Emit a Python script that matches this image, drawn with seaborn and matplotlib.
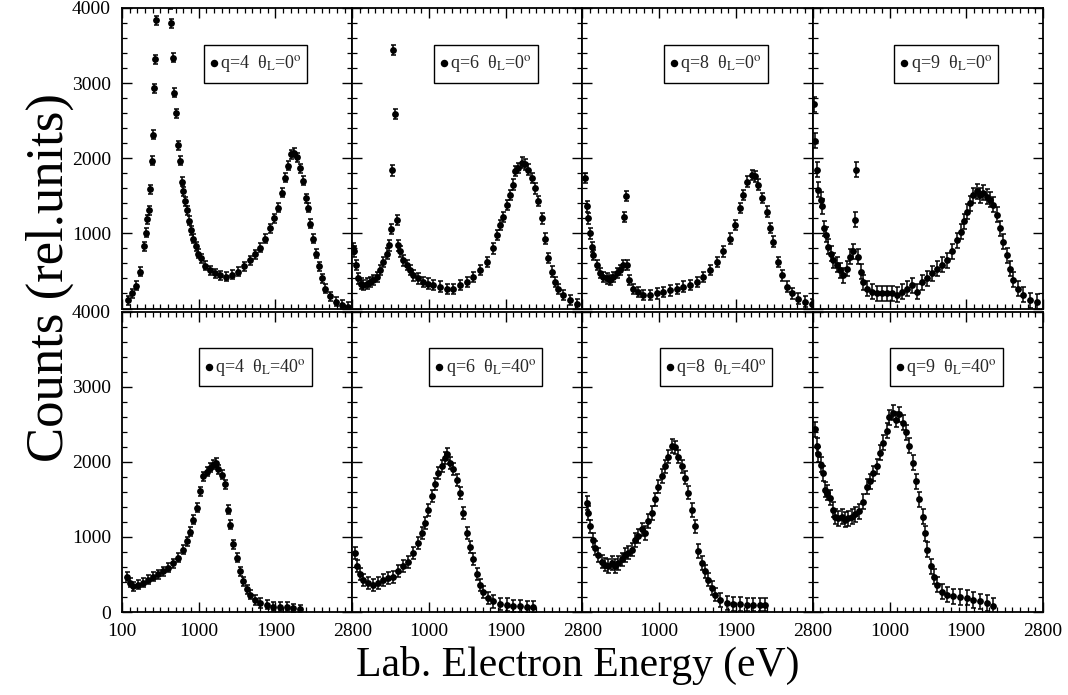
import matplotlib
matplotlib.use('Agg')
import numpy as np
import matplotlib.pyplot as plt
import seaborn as sns
from matplotlib.path import Path
from matplotlib.ticker import FixedLocator, MultipleLocator

# ---------------- data ----------------
x_ticks = [100, 1000, 1900, 2800]
y_ticks = [0, 1000, 2000, 3000, 4000]

labels = ['q=4  θ$_{\\rm L}$=0$^{\\rm o}$', 'q=6  θ$_{\\rm L}$=0$^{\\rm o}$',
          'q=8  θ$_{\\rm L}$=0$^{\\rm o}$', 'q=9  θ$_{\\rm L}$=0$^{\\rm o}$',
          'q=4  θ$_{\\rm L}$=40$^{\\rm o}$', 'q=6  θ$_{\\rm L}$=40$^{\\rm o}$',
          'q=8  θ$_{\\rm L}$=40$^{\\rm o}$', 'q=9  θ$_{\\rm L}$=40$^{\\rm o}$']

E_q4_0 = [167, 214, 264, 311, 362, 378, 397, 413, 425, 448, 460, 472, 483, 495, 663, 678, 695, 710, 733, 760,
          784, 800, 815, 839, 862, 886, 909, 933, 968, 991, 1026, 1073, 1132, 1191, 1249, 1320, 1390, 1460, 1531,
          1601, 1660, 1718, 1777, 1836, 1883, 1929, 1976, 2011, 2047, 2082, 2117, 2152, 2187, 2223, 2258, 2281,
          2305, 2340, 2375, 2410, 2445, 2481, 2539, 2610, 2680, 2750]
C_q4_0 = [110, 200, 300, 490, 830, 1010, 1190, 1310, 1590, 1970, 2310, 2930, 3320, 3840, 4050, 3800, 3340, 2870,
          2600, 2170, 1970, 1690, 1560, 1430, 1310, 1170, 1040, 930, 830, 730, 670, 570, 510, 470, 440, 420, 450,
          490, 560, 640, 720, 810, 930, 1070, 1200, 1340, 1540, 1740, 1900, 2050, 2070, 2010, 1870, 1700, 1470,
          1340, 1130, 930, 730, 560, 400, 260, 160, 90, 50, 20]

E_q6_0 = [113, 120, 144, 171, 199, 230, 269, 308, 347, 386, 425, 464, 504, 535, 558, 570, 582, 605, 629, 640,
          660, 699, 738, 777, 816, 875, 934, 992, 1051, 1129, 1207, 1285, 1364, 1442, 1520, 1598, 1676, 1754,
          1794, 1833, 1872, 1911, 1950, 1989, 2009, 2048, 2087, 2126, 2165, 2204, 2243, 2282, 2321, 2360, 2399,
          2438, 2478, 2517, 2575, 2653, 2732]
C_q6_0 = [800, 760, 580, 400, 330, 310, 330, 350, 380, 420, 510, 620, 730, 840, 1060, 1840, 3440, 2590, 1180,
          840, 760, 640, 580, 510, 440, 400, 350, 330, 310, 290, 260, 260, 310, 350, 420, 510, 620, 800, 980,
          1110, 1220, 1380, 1510, 1650, 1830, 1870, 1940, 1920, 1850, 1740, 1600, 1430, 1200, 930, 670, 490,
          350, 260, 180, 110, 60]

E_q8_0 = [129, 149, 168, 188, 207, 227, 266, 305, 344, 383, 422, 461, 501, 540, 571, 590, 606, 626, 649, 696,
          755, 813, 892, 970, 1048, 1126, 1204, 1282, 1361, 1439, 1517, 1595, 1673, 1752, 1830, 1888, 1947, 1986,
          2033, 2084, 2123, 2162, 2201, 2260, 2299, 2338, 2397, 2436, 2494, 2553, 2631, 2709, 2787]
C_q8_0 = [1740, 1360, 1200, 1000, 820, 710, 580, 470, 420, 400, 380, 420, 470, 510, 580, 1220, 1500, 580, 380,
          260, 220, 180, 180, 200, 220, 240, 260, 290, 310, 350, 420, 510, 620, 760, 930, 1110, 1340, 1510, 1690,
          1780, 1760, 1650, 1470, 1290, 1070, 890, 620, 440, 290, 200, 130, 90, 60]

E_q9_0 = [115, 126, 146, 165, 193, 208, 232, 255, 283, 310, 341, 381, 420, 459, 498, 537, 568, 599, 607, 635,
          662, 693, 732, 791, 850, 908, 967, 1025, 1084, 1143, 1201, 1260, 1319, 1377, 1436, 1495, 1553, 1612,
          1670, 1729, 1788, 1835, 1874, 1905, 1944, 1983, 2022, 2061, 2100, 2140, 2179, 2218, 2257, 2296, 2335,
          2374, 2413, 2452, 2511, 2570, 2648, 2726]
C_q9_0 = [2720, 2230, 1850, 1580, 1450, 1360, 1070, 980, 820, 730, 640, 580, 510, 440, 530, 690, 760, 1180, 1850,
          690, 490, 350, 260, 220, 200, 200, 200, 200, 180, 220, 260, 310, 220, 350, 400, 470, 530, 580, 640, 760,
          910, 1020, 1160, 1290, 1400, 1510, 1560, 1510, 1540, 1490, 1450, 1380, 1250, 1070, 890, 710, 530, 380,
          260, 180, 110, 90]

E_q4_40 = [155, 194, 233, 292, 350, 409, 467, 526, 585, 643, 702, 761, 819, 858, 898, 937, 976, 1015, 1054, 1093,
           1132, 1171, 1203, 1230, 1269, 1308, 1347, 1367, 1406, 1445, 1484, 1523, 1562, 1601, 1660, 1718, 1797,
           1875, 1953, 2031, 2109, 2188]
C_q4_40 = [470, 390, 340, 360, 390, 430, 470, 500, 540, 590, 650, 720, 830, 940, 1070, 1230, 1390, 1610, 1810,
           1870, 1920, 1960, 1990, 1900, 1830, 1700, 1360, 1160, 900, 720, 540, 410, 300, 230, 160, 120, 100, 70,
           70, 70, 50, 40]

E_q6_40 = [132, 152, 191, 230, 289, 347, 406, 464, 523, 582, 640, 699, 758, 816, 875, 914, 953, 992, 1031, 1070,
           1109, 1149, 1188, 1215, 1246, 1285, 1324, 1363, 1403, 1442, 1481, 1520, 1559, 1598, 1637, 1696, 1754,
           1833, 1911, 1989, 2067, 2145, 2223]
C_q6_40 = [790, 610, 500, 430, 390, 360, 390, 430, 450, 470, 540, 610, 670, 790, 920, 1050, 1190, 1360, 1540,
           1700, 1850, 1940, 2050, 2100, 1990, 1900, 1760, 1590, 1320, 1050, 870, 700, 500, 360, 270, 190, 140,
           110, 100, 80, 80, 70, 70]

E_q8_40 = [149, 168, 188, 219, 246, 286, 325, 364, 403, 442, 481, 520, 559, 598, 637, 676, 715, 755, 794, 833,
           872, 911, 950, 989, 1028, 1067, 1106, 1145, 1185, 1224, 1263, 1302, 1341, 1380, 1419, 1458, 1497, 1537,
           1576, 1615, 1654, 1712, 1791, 1869, 1947, 2025, 2103, 2181, 2240]
C_q8_40 = [1450, 1320, 1140, 960, 850, 760, 670, 630, 610, 650, 610, 650, 700, 760, 790, 830, 960, 1010, 1100,
           1050, 1210, 1320, 1500, 1670, 1810, 1940, 2070, 2210, 2190, 2070, 1940, 1790, 1590, 1360, 1140, 810,
           650, 540, 430, 320, 230, 160, 120, 110, 110, 100, 100, 100, 100]

E_q9_40 = [126, 146, 166, 193, 224, 244, 271, 302, 334, 361, 400, 439, 478, 517, 556, 595, 646, 693, 732, 771,
           810, 850, 889, 928, 967, 998, 1037, 1076, 1115, 1154, 1194, 1233, 1272, 1311, 1350, 1389, 1416, 1444,
           1483, 1522, 1561, 1612, 1670, 1749, 1827, 1905, 1983, 2061, 2140, 2218]
C_q9_40 = [2430, 2210, 2100, 1960, 1850, 1630, 1590, 1520, 1360, 1270, 1250, 1270, 1230, 1250, 1270, 1300, 1340,
           1470, 1670, 1740, 1850, 1940, 2120, 2250, 2410, 2590, 2650, 2560, 2630, 2520, 2390, 2210, 1990, 1740,
           1500, 1270, 1050, 830, 610, 470, 360, 270, 230, 210, 200, 190, 160, 140, 120, 80]

errors = [60, 70, 70, 100, 60, 80, 90, 100]

energies = [E_q4_0, E_q6_0, E_q8_0, E_q9_0, E_q4_40, E_q6_40, E_q8_40, E_q9_40]
counts = [C_q4_0, C_q6_0, C_q8_0, C_q9_0, C_q4_40, C_q6_40, C_q8_40, C_q9_40]


def tall_box(x0, y0, width, height, mutation_size):
    """Legend frame with extra vertical padding only."""
    pad = 0.17 * mutation_size
    return Path([(x0, y0 - pad), (x0 + width, y0 - pad), (x0 + width, y0 + height + pad),
                 (x0, y0 + height + pad), (x0, y0 - pad)], closed=True)


# ---------------- style ----------------
sns.set_theme(style='ticks')
plt.rcParams['font.family'] = ['Liberation Serif', 'DejaVu Serif']
plt.rcParams['mathtext.fontset'] = 'stix'

fig, axes = plt.subplots(2, 4, figsize=(10.68, 6.95), dpi=100)
fig.subplots_adjust(left=0.1142, right=0.9766, top=0.9885, bottom=0.1194, wspace=0, hspace=0.01)

for i, ax in enumerate(axes.flat):
    row, col = divmod(i, 4)
    E, C, err = energies[i], counts[i], errors[i]
    ax.errorbar(E, C, yerr=err, fmt='none', ecolor='black', elinewidth=1.1,
                capsize=1.8, capthick=1.1, zorder=2)
    sns.scatterplot(x=E, y=C, ax=ax, color='black', s=24, linewidth=0,
                    label=labels[i], zorder=3)
    ax.set_xlim(100, 2800)
    ax.set_ylim(0, 4000)
    ax.set_xlabel('')
    ax.set_ylabel('')

    ax.xaxis.set_major_locator(FixedLocator(x_ticks))
    ax.xaxis.set_minor_locator(FixedLocator(np.arange(100, 2801, 90)))
    ax.yaxis.set_major_locator(FixedLocator(y_ticks))
    ax.yaxis.set_minor_locator(MultipleLocator(200))
    if row == 1:
        ax.set_xticklabels([str(t) if (col == 0 or t != 100) else '' for t in x_ticks])
    if col == 0:
        ax.set_yticklabels([str(t) if (row == 1 or t != 0) else '' for t in y_ticks])

    ax.tick_params(which='both', direction='in', top=True, right=True,
                   bottom=True, left=True, color='black',
                   labelbottom=(row == 1), labelleft=(col == 0),
                   labelsize=14, labelcolor='black')
    ax.tick_params(which='major', length=7, width=1.0, pad=8)
    ax.tick_params(which='minor', length=3.5, width=0.9)
    for sp in ax.spines.values():
        sp.set_visible(True)
        sp.set_color('black')
        sp.set_linewidth(1.3)

    leg = ax.legend(loc='center', bbox_to_anchor=(0.58, 0.815), frameon=True, fancybox=False,
                    edgecolor='black', framealpha=1, fontsize=13, handletextpad=0.1,
                    handlelength=0.5, borderpad=0.3, markerscale=1.1, borderaxespad=0)
    leg.get_frame().set_linewidth(1.0)
    leg.get_frame().set_boxstyle(tall_box)

fig.text(0.047, 0.60, 'Counts (rel.units)', rotation=90, ha='center', va='center',
         fontsize=38, color='black')
fig.text(0.541, 0.043, 'Lab. Electron Energy (eV)', ha='center', va='center',
         fontsize=30, color='black')

fig.savefig('out.png', dpi=100)
